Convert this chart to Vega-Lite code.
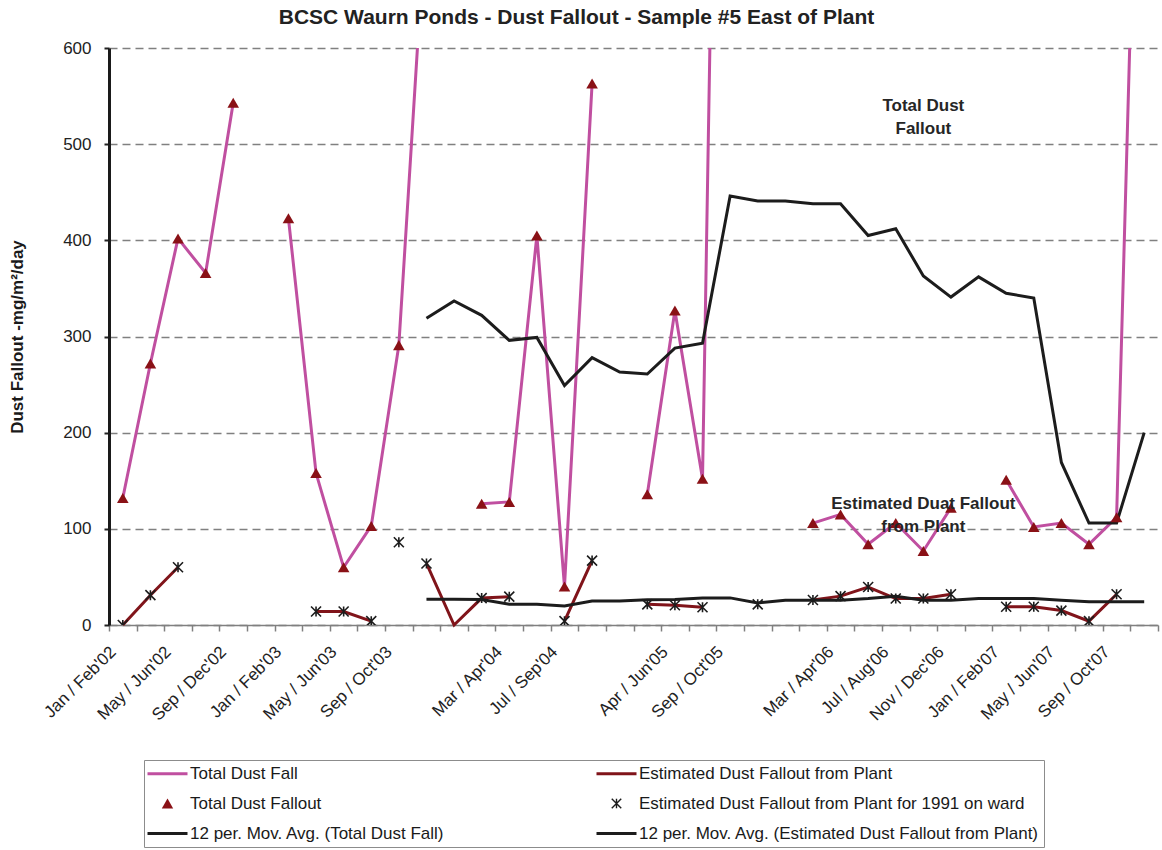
{
  "$schema": "https://vega.github.io/schema/vega-lite/v6.json",
  "width": 1049,
  "height": 577,
  "autosize": "none",
  "padding": {"left": 109, "top": 48, "right": 4, "bottom": 225},
  "background": "white",
  "config": {
    "font": "Liberation Sans",
    "view": {"stroke": null}
  },
  "title": {
    "text": "BCSC Waurn Ponds - Dust Fallout - Sample #5 East of Plant",
    "fontSize": 21,
    "fontWeight": "bold",
    "color": "#222222",
    "anchor": "middle",
    "dx": -57,
    "baseline": "alphabetic",
    "offset": -6
  },
  "data": {
    "values": [
      {"period": "Jan / Feb'02", "total": 132, "plant": 0, "plant91": 0, "avgTotal": null, "avgPlant": null},
      {"period": "Mar / Apr'02", "total": 272, "plant": 31, "plant91": 31, "avgTotal": null, "avgPlant": null},
      {"period": "May / Jun'02", "total": 402, "plant": 60, "plant91": 60, "avgTotal": null, "avgPlant": null},
      {"period": "Jul / Aug'02", "total": 366, "plant": null, "plant91": null, "avgTotal": null, "avgPlant": null},
      {"period": "Sep / Dec'02", "total": 543, "plant": null, "plant91": null, "avgTotal": null, "avgPlant": null},
      {"period": "Nov'02", "total": null, "plant": null, "plant91": null, "avgTotal": null, "avgPlant": null},
      {"period": "Jan / Feb'03", "total": 423, "plant": null, "plant91": null, "avgTotal": null, "avgPlant": null},
      {"period": "Mar / Apr'03", "total": 158, "plant": 14, "plant91": 14, "avgTotal": null, "avgPlant": null},
      {"period": "May / Jun'03", "total": 60, "plant": 14, "plant91": 14, "avgTotal": null, "avgPlant": null},
      {"period": "Jul / Aug'03", "total": 103, "plant": 4, "plant91": 4, "avgTotal": null, "avgPlant": null},
      {"period": "Sep / Oct'03", "total": 291, "plant": null, "plant91": 86, "avgTotal": null, "avgPlant": null},
      {"period": "Nov / Dec'03", "total": 750, "plant": 64, "plant91": 64, "avgTotal": 319, "avgPlant": 26.7},
      {"period": "Jan'04", "total": null, "plant": 0, "plant91": null, "avgTotal": 337, "avgPlant": 26.7},
      {"period": "Feb'04", "total": 126, "plant": 28, "plant91": 28, "avgTotal": 322, "avgPlant": 26.5},
      {"period": "Mar / Apr'04", "total": 128, "plant": 29.5, "plant91": 29.5, "avgTotal": 296, "avgPlant": 21.7},
      {"period": "May / Jun'04", "total": 405, "plant": null, "plant91": null, "avgTotal": 299, "avgPlant": 21.7},
      {"period": "Jul / Sep'04", "total": 40, "plant": 4, "plant91": 4, "avgTotal": 249, "avgPlant": 19.8},
      {"period": "Oct / Nov'04", "total": 563, "plant": 67, "plant91": 67, "avgTotal": 278, "avgPlant": 25},
      {"period": "Dec'04 / Jan'05", "total": null, "plant": null, "plant91": null, "avgTotal": 263, "avgPlant": 25},
      {"period": "Feb / Mar'05", "total": 136, "plant": 21.5, "plant91": 21.5, "avgTotal": 261, "avgPlant": 26.2},
      {"period": "Apr / Jun'05", "total": 327, "plant": 20.5, "plant91": 20.5, "avgTotal": 288, "avgPlant": 26.6},
      {"period": "Jul / Aug'05", "total": 152, "plant": 18.5, "plant91": 18.5, "avgTotal": 293, "avgPlant": 28.2},
      {"period": "Sep / Oct'05", "total": 1833, "plant": null, "plant91": null, "avgTotal": 446, "avgPlant": 28.2},
      {"period": "Nov / Dec'05", "total": 700, "plant": null, "plant91": 21.5, "avgTotal": 441, "avgPlant": 23},
      {"period": "Jan'06", "total": null, "plant": null, "plant91": null, "avgTotal": 441, "avgPlant": 25.8},
      {"period": "Feb'06", "total": 106, "plant": 26, "plant91": 26, "avgTotal": 438, "avgPlant": 25.8},
      {"period": "Mar / Apr'06", "total": 115, "plant": 30, "plant91": 30, "avgTotal": 438, "avgPlant": 25.8},
      {"period": "May / Jun'06", "total": 84, "plant": 39.5, "plant91": 39.5, "avgTotal": 405, "avgPlant": 27.5},
      {"period": "Jul / Aug'06", "total": 106, "plant": 27.5, "plant91": 27.5, "avgTotal": 412, "avgPlant": 30},
      {"period": "Sep / Oct'06", "total": 77, "plant": 27.5, "plant91": 27.5, "avgTotal": 363, "avgPlant": 25.8},
      {"period": "Nov / Dec'06", "total": 122, "plant": 32, "plant91": 32, "avgTotal": 341, "avgPlant": 25.8},
      {"period": "Dec'06", "total": null, "plant": null, "plant91": null, "avgTotal": 362, "avgPlant": 27.5},
      {"period": "Jan / Feb'07", "total": 151, "plant": 19, "plant91": 19, "avgTotal": 345, "avgPlant": 27.5},
      {"period": "Mar / Apr'07", "total": 102, "plant": 19, "plant91": 19, "avgTotal": 340, "avgPlant": 27.5},
      {"period": "May / Jun'07", "total": 106, "plant": 15, "plant91": 15, "avgTotal": 169, "avgPlant": 25.8},
      {"period": "Jul / Aug'07", "total": 84, "plant": 4, "plant91": 4, "avgTotal": 106, "avgPlant": 24.1},
      {"period": "Sep / Oct'07", "total": 112, "plant": 32, "plant91": 32, "avgTotal": 106, "avgPlant": 24.1},
      {"period": "Nov / Dec'07", "total": 1141, "plant": null, "plant91": null, "avgTotal": 200, "avgPlant": 24.1}
    ]
  },
  "encoding": {
    "x": {
      "field": "period",
      "type": "nominal",
      "sort": null,
      "scale": {
        "type": "band",
        "paddingInner": 0,
        "paddingOuter": 0,
        "domain": ["Jan / Feb'02", "Mar / Apr'02", "May / Jun'02", "Jul / Aug'02", "Sep / Dec'02", "Nov'02", "Jan / Feb'03", "Mar / Apr'03", "May / Jun'03", "Jul / Aug'03", "Sep / Oct'03", "Nov / Dec'03", "Jan'04", "Feb'04", "Mar / Apr'04", "May / Jun'04", "Jul / Sep'04", "Oct / Nov'04", "Dec'04 / Jan'05", "Feb / Mar'05", "Apr / Jun'05", "Jul / Aug'05", "Sep / Oct'05", "Nov / Dec'05", "Jan'06", "Feb'06", "Mar / Apr'06", "May / Jun'06", "Jul / Aug'06", "Sep / Oct'06", "Nov / Dec'06", "Dec'06", "Jan / Feb'07", "Mar / Apr'07", "May / Jun'07", "Jul / Aug'07", "Sep / Oct'07", "Nov / Dec'07"]
      },
      "axis": {
        "title": null,
        "grid": false,
        "labelAngle": -45,
        "labelAlign": "right",
        "labelBaseline": "middle",
        "labelFontSize": 17,
        "labelColor": "#222222",
        "labelPadding": 18,
        "labelOffset": -10,
        "labelOverlap": false,
        "labelExpr": "(indexof(domain('x'), datum.value) % 2 == 0 && indexof([12, 18, 24], indexof(domain('x'), datum.value)) < 0) ? datum.label : ''",
        "tickBand": "extent",
        "tickSize": 6,
        "tickColor": "#808080",
        "tickWidth": 1.5,
        "domainColor": "#808080",
        "domainWidth": 1.5
      }
    }
  },
  "layer": [
    {
      "mark": {"type": "line", "strokeWidth": 3, "clip": true, "invalid": "break-paths-show-domains"},
      "encoding": {
        "y": {
          "field": "total",
          "type": "quantitative",
          "scale": {"domain": [0, 600], "nice": false, "zero": true},
          "axis": {
            "title": "Dust Fallout -mg/m²/day",
            "titleFontSize": 17,
            "titleFontWeight": "bold",
            "titleColor": "#1a1a1a",
            "titlePadding": 36,
            "values": [0, 100, 200, 300, 400, 500, 600],
            "labelFontSize": 17,
            "labelColor": "#222222",
            "labelPadding": 13,
            "tickSize": 5,
            "tickColor": "#222222",
            "tickWidth": 2,
            "domainColor": "#1a1a1a",
            "domainWidth": 3,
            "grid": true,
            "gridColor": "#808080",
            "gridDash": [8, 5],
            "gridWidth": 1.5
          }
        },
        "color": {
          "datum": "Total Dust Fall",
          "type": "nominal",
          "scale": {
            "domain": ["Total Dust Fall", "Total Dust Fallout", "12 per. Mov. Avg. (Total Dust Fall)", "Estimated Dust Fallout from Plant", "Estimated Dust Fallout from Plant for 1991 on ward", "12 per. Mov. Avg. (Estimated Dust Fallout from Plant)"],
            "range": ["#C04FA0", "#8A1116", "#1C1C1C", "#80141A", "#1C1C1C", "#1C1C1C"]
          },
          "legend": {
            "title": null,
            "orient": "none",
            "legendX": 35,
            "legendY": 712,
            "columns": 2,
            "columnPadding": 145,
            "rowPadding": 12,
            "padding": 5,
            "strokeColor": "#8c8c8c",
            "fillColor": "white",
            "labelFont": "Liberation Sans",
            "labelFontSize": 17,
            "labelColor": "#1a1a1a",
            "labelLimit": 600,
            "symbolSize": 400,
            "symbolOffset": 10,
            "labelOffset": 14,
            "encode": {
              "symbols": {
                "update": {
                  "shape": {"signal": "datum.value == 'Total Dust Fallout' ? 'triangle-up' : datum.value == 'Estimated Dust Fallout from Plant for 1991 on ward' ? 'M-1,-1L1,1M-1,1L1,-1M0,-1L0,1' : 'M-2,0L2,0'"},
                  "size": {"signal": "datum.value == 'Total Dust Fallout' ? 130 : datum.value == 'Estimated Dust Fallout from Plant for 1991 on ward' ? 90 : 400"},
                  "fill": {"signal": "datum.value == 'Total Dust Fallout' ? '#8A1116' : 'transparent'"},
                  "stroke": {"signal": "scale('color', datum.value)"},
                  "strokeWidth": {"signal": "datum.value == 'Total Dust Fallout' ? 0 : datum.value == 'Estimated Dust Fallout from Plant for 1991 on ward' ? 1.4 : 3.2"},
                  "opacity": {"value": 1}
                }
              }
            }
          }
        }
      }
    },
    {
      "mark": {"type": "line", "strokeWidth": 3, "invalid": "break-paths-show-domains"},
      "encoding": {
        "y": {"field": "plant", "type": "quantitative"},
        "color": {"datum": "Estimated Dust Fallout from Plant", "type": "nominal"}
      }
    },
    {
      "mark": {"type": "line", "strokeWidth": 3, "invalid": "break-paths-show-domains"},
      "encoding": {
        "y": {"field": "avgTotal", "type": "quantitative"},
        "color": {"datum": "12 per. Mov. Avg. (Total Dust Fall)", "type": "nominal"}
      }
    },
    {
      "mark": {"type": "line", "strokeWidth": 3, "invalid": "break-paths-show-domains"},
      "encoding": {
        "y": {"field": "avgPlant", "type": "quantitative"},
        "color": {"datum": "12 per. Mov. Avg. (Estimated Dust Fallout from Plant)", "type": "nominal"}
      }
    },
    {
      "mark": {"type": "point", "shape": "triangle-up", "filled": true, "size": 135, "opacity": 1, "clip": true},
      "encoding": {
        "y": {"field": "total", "type": "quantitative"},
        "color": {"datum": "Total Dust Fallout", "type": "nominal"}
      }
    },
    {
      "mark": {"type": "point", "shape": "M-1,-1L1,1M-1,1L1,-1M0,-1L0,1", "filled": false, "size": 100, "strokeWidth": 1.6, "opacity": 1, "clip": true},
      "encoding": {
        "y": {"field": "plant91", "type": "quantitative"},
        "color": {"datum": "Estimated Dust Fallout from Plant for 1991 on ward", "type": "nominal"}
      }
    },
    {
      "data": {
        "values": [
          {"period": "Sep / Oct'06", "level": 539.5, "note": "Total Dust\nFallout"},
          {"period": "Sep / Oct'06", "level": 125.5, "note": "Estimated Duat Fallout\nfrom Plant"}
        ]
      },
      "mark": {"type": "text", "fontSize": 17, "fontWeight": "bold", "color": "#262626", "lineBreak": "\n", "lineHeight": 23, "align": "center", "baseline": "middle"},
      "encoding": {
        "y": {"field": "level", "type": "quantitative"},
        "text": {"field": "note"}
      }
    }
  ]
}
